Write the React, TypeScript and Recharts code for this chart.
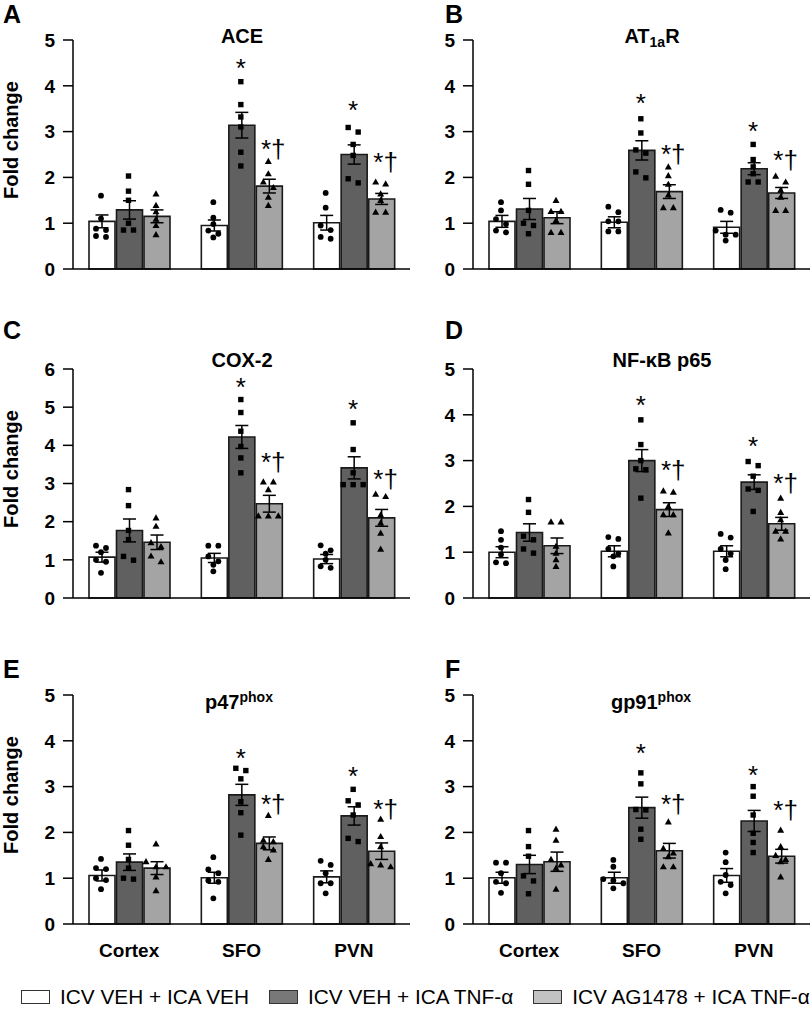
import React from 'react';
import { ComposedChart, Bar, XAxis, YAxis, ErrorBar, Scatter } from 'recharts';

const FONT = '"Liberation Sans", Arial, Helvetica, sans-serif';

const regions = ['Cortex', 'SFO', 'PVN'];
const groups = ['ICV VEH + ICA VEH', 'ICV VEH + ICA TNF-α', 'ICV AG1478 + ICA TNF-α'];
const ticks5 = [0, 1, 2, 3, 4, 5];
const ticks6 = [0, 1, 2, 3, 4, 5, 6];
const markLabels = ['', '*', '*†'];

// each array: [Cortex, SFO, PVN], inner: [VEH, TNF, AG1478]
const aceMean = [[1.04, 1.29, 1.15], [0.95, 3.14, 1.81], [1.01, 2.5, 1.53]];
const aceSem = [[0.14, 0.2, 0.14], [0.12, 0.28, 0.15], [0.16, 0.21, 0.12]];
const acePoints = [
  [[1.6, 1.1, 0.88, 0.85, 0.72, 0.7], [2.03, 1.7, 1.5, 1.0, 0.85, 0.85], [1.64, 1.39, 1.25, 1.09, 0.95, 0.75]],
  [[1.46, 1.12, 0.98, 0.84, 0.77, 0.69], [4.09, 3.59, 3.32, 3.1, 2.55, 2.25], [2.35, 2.08, 1.9, 1.78, 1.57, 1.39]],
  [[1.66, 1.34, 0.95, 0.85, 0.7, 0.66], [3.09, 2.99, 2.72, 2.48, 1.97, 1.88], [1.9, 1.86, 1.64, 1.5, 1.24, 1.24]],
];
const aceMarks = [[null, null, null], [null, 4.49, 2.74], [null, 3.58, 2.45]];

const atrMean = [[1.04, 1.31, 1.12], [1.02, 2.59, 1.69], [0.91, 2.19, 1.66]];
const atrSem = [[0.13, 0.23, 0.13], [0.12, 0.21, 0.15], [0.13, 0.13, 0.12]];
const atrPoints = [
  [[1.46, 1.28, 1.09, 0.98, 0.84, 0.8], [2.15, 1.85, 1.28, 1.0, 0.95, 0.77], [1.5, 1.26, 1.26, 1.06, 0.8, 0.8]],
  [[1.36, 1.24, 1.04, 1.04, 0.82, 0.82], [3.28, 2.97, 2.6, 2.53, 2.12, 1.99], [2.23, 2.04, 1.85, 1.62, 1.34, 1.34]],
  [[1.29, 1.23, 0.84, 0.75, 0.75, 0.62], [2.72, 2.39, 2.23, 2.08, 1.9, 1.9], [2.03, 1.9, 1.72, 1.57, 1.28, 1.28]],
];
const atrMarks = [[null, null, null], [null, 3.74, 2.63], [null, 3.12, 2.48]];

const coxMean = [[1.07, 1.77, 1.46], [1.05, 4.22, 2.47], [1.02, 3.41, 2.1]];
const coxSem = [[0.13, 0.3, 0.19], [0.12, 0.3, 0.22], [0.12, 0.29, 0.22]];
const coxPoints = [
  [[1.37, 1.31, 1.2, 1.0, 0.95, 0.66], [2.84, 2.42, 1.77, 1.53, 1.09, 0.99], [2.1, 1.88, 1.45, 1.35, 1.1, 0.95]],
  [[1.37, 1.37, 1.09, 0.96, 0.87, 0.7], [5.2, 4.86, 4.37, 3.97, 3.67, 3.28], [3.04, 3.04, 2.84, 2.15, 2.15, 2.15]],
  [[1.38, 1.25, 1.16, 1.0, 0.83, 0.79], [4.59, 3.89, 3.28, 2.97, 2.97, 2.97], [2.72, 2.66, 2.18, 1.97, 1.7, 1.28]],
];
const coxMarks = [[null, null, null], [null, 5.65, 3.69], [null, 5.07, 3.25]];

const nfkbMean = [[1.0, 1.43, 1.14], [1.02, 3.0, 1.93], [1.02, 2.53, 1.62]];
const nfkbSem = [[0.12, 0.19, 0.17], [0.12, 0.24, 0.15], [0.12, 0.16, 0.14]];
const nfkbPoints = [
  [[1.46, 1.27, 1.1, 0.95, 0.78, 0.76], [2.15, 1.87, 1.35, 1.27, 1.07, 0.98], [1.66, 1.66, 1.13, 0.98, 0.84, 0.69]],
  [[1.33, 1.29, 1.07, 0.97, 0.91, 0.69], [3.89, 3.35, 3.0, 2.82, 2.8, 2.18], [2.34, 2.31, 2.0, 1.82, 1.82, 1.42]],
  [[1.4, 1.32, 1.07, 0.97, 0.83, 0.63], [2.98, 2.89, 2.66, 2.38, 2.35, 1.89], [2.18, 1.87, 1.71, 1.46, 1.46, 1.29]],
];
const nfkbMarks = [[null, null, null], [null, 4.33, 2.91], [null, 3.42, 2.62]];

const p47Mean = [[1.06, 1.35, 1.22], [1.01, 2.82, 1.76], [1.03, 2.36, 1.59]];
const p47Sem = [[0.12, 0.18, 0.14], [0.12, 0.23, 0.14], [0.13, 0.2, 0.18]];
const p47Points = [
  [[1.42, 1.22, 1.2, 1.0, 0.96, 0.76], [2.04, 1.72, 1.41, 1.22, 1.0, 0.98], [1.75, 1.36, 1.25, 1.25, 1.03, 0.73]],
  [[1.46, 1.19, 1.11, 0.95, 0.92, 0.56], [3.4, 3.35, 3.17, 2.67, 2.43, 1.94], [2.37, 1.83, 1.8, 1.69, 1.62, 1.41]],
  [[1.38, 1.29, 1.11, 0.89, 0.89, 0.67], [2.94, 2.69, 2.6, 2.38, 1.87, 1.8], [2.29, 1.91, 1.69, 1.32, 1.29, 1.25]],
];
const p47Marks = [[null, null, null], [null, 3.73, 2.74], [null, 3.33, 2.63]];

const gp91Mean = [[1.01, 1.3, 1.36], [1.01, 2.54, 1.6], [1.06, 2.25, 1.48]];
const gp91Sem = [[0.12, 0.2, 0.21], [0.12, 0.23, 0.16], [0.15, 0.23, 0.15]];
const gp91Points = [
  [[1.34, 1.34, 1.11, 0.92, 0.89, 0.68], [2.04, 1.69, 1.48, 1.05, 0.94, 0.66], [2.07, 1.83, 1.41, 1.29, 1.22, 0.76]],
  [[1.4, 1.25, 0.98, 0.95, 0.89, 0.78], [3.3, 3.06, 2.5, 2.49, 2.07, 1.85], [2.23, 1.65, 1.55, 1.47, 1.25, 1.25]],
  [[1.56, 1.35, 1.07, 0.92, 0.85, 0.67], [3.0, 2.79, 2.38, 1.98, 1.78, 1.56], [2.05, 1.69, 1.5, 1.41, 1.36, 1.03]],
];
const gp91Marks = [[null, null, null], [null, 3.84, 2.74], [null, 3.36, 2.6]];

type Part = { text: string; sub?: boolean; sup?: boolean };

const panels = [
  { letter: 'A', title: [{ text: 'ACE' }] as Part[], titleX: 242, mean: aceMean, sem: aceSem, points: acePoints, marks: aceMarks, ticks: ticks5, col: 0, row: 0 },
  { letter: 'B', title: [{ text: 'AT' }, { text: '1a', sub: true }, { text: 'R' }] as Part[], titleX: 252, mean: atrMean, sem: atrSem, points: atrPoints, marks: atrMarks, ticks: ticks5, col: 1, row: 0 },
  { letter: 'C', title: [{ text: 'COX-2' }] as Part[], titleX: 242, mean: coxMean, sem: coxSem, points: coxPoints, marks: coxMarks, ticks: ticks6, col: 0, row: 1 },
  { letter: 'D', title: [{ text: 'NF-κB p65' }] as Part[], titleX: 262, mean: nfkbMean, sem: nfkbSem, points: nfkbPoints, marks: nfkbMarks, ticks: ticks5, col: 1, row: 1 },
  { letter: 'E', title: [{ text: 'p47' }, { text: 'phox', sup: true }] as Part[], titleX: 239, mean: p47Mean, sem: p47Sem, points: p47Points, marks: p47Marks, ticks: ticks5, col: 0, row: 2 },
  { letter: 'F', title: [{ text: 'gp91' }, { text: 'phox', sup: true }] as Part[], titleX: 251, mean: gp91Mean, sem: gp91Sem, points: gp91Points, marks: gp91Marks, ticks: ticks5, col: 1, row: 2 },
];

// layout
const COL_LEFT = [0, 400];
const ROW_TOP = [0, 329, 655];
const LETTER_Y = [23, 10, 23];
const TITLE_Y = [43, 38, 54];
const CHART_W = 412;
const MARGIN = { top: 40, right: 2, bottom: 1, left: 33 };
const AXIS_W = 40;
const PLOT_H = 229;
const XAXIS_H = 40;
const CHART_H = MARGIN.top + PLOT_H + XAXIS_H + MARGIN.bottom;
const PLOT_W = CHART_W - MARGIN.left - AXIS_W - MARGIN.right;
const BAR_SIZE = 26;
const BAR_GAP = 1.5;
const SWARM_STEP = 10;

const keys = ['veh', 'tnf', 'ag'];
const barFills = ['#ffffff', '#606060', '#a4a4a4'];
const legendFills = ['#ffffff', '#787878', '#c2c2c2'];

const BAND = PLOT_W / regions.length;
const BAR_OFFSET = Math.floor((BAND - (BAR_SIZE * keys.length + BAR_GAP * (keys.length - 1))) / 2);
const barCenter = (r: number, g: number) => r + (BAR_OFFSET + g * (BAR_SIZE + BAR_GAP) + BAR_SIZE / 2) / BAND;

// lay points of one bar out in rows, like a prism scatter
function swarm(values: number[], max: number) {
  const tol = (max * 6) / PLOT_H;
  const sorted = [...values].sort((a, b) => b - a);
  const rows: number[][] = [];
  sorted.forEach((v) => {
    const last = rows[rows.length - 1];
    if (last && last[0] - v < tol) last.push(v);
    else rows.push([v]);
  });
  const out: { v: number; dx: number }[] = [];
  rows.forEach((row) => row.forEach((v, i) => out.push({ v, dx: (i - (row.length - 1) / 2) * SWARM_STEP })));
  return out;
}

const Circle = (props: any) => <circle cx={props.cx} cy={props.cy} r={2.9} fill="#000" />;
const Square = (props: any) => <rect x={props.cx - 2.7} y={props.cy - 2.7} width={5.4} height={5.4} fill="#000" />;
const Triangle = (props: any) => (
  <polygon
    points={`${props.cx},${props.cy - 3.6} ${props.cx - 3.5},${props.cy + 2.6} ${props.cx + 3.5},${props.cy + 2.6}`}
    fill="#000"
  />
);
const shapes = [Circle, Square, Triangle];

const MarkShape = (props: any) => {
  const { cx, cy, payload } = props;
  const pair = payload.label.length > 1;
  return (
    <text
      x={pair ? cx - 7.4 : cx}
      y={cy + 14}
      textAnchor={pair ? 'start' : 'middle'}
      fontSize={26}
      fontFamily={FONT}
      fill="#000"
    >
      {payload.label}
    </text>
  );
};

function Title({ parts, x, y }: { parts: Part[]; x: number; y: number }) {
  let shift = 0;
  return (
    <text x={x} y={y} textAnchor="middle" fontFamily={FONT} fontWeight="bold" fontSize={20} fill="#000">
      {parts.map((pt, i) => {
        const target = pt.sub ? 4 : pt.sup ? -7 : 0;
        const dy = target - shift;
        shift = target;
        return (
          <tspan key={i} dy={dy} fontSize={pt.sub || pt.sup ? 14 : 20}>
            {pt.text}
          </tspan>
        );
      })}
    </text>
  );
}

function Panel({ p }: { p: (typeof panels)[number] }) {
  const max = p.ticks[p.ticks.length - 1];
  const data = regions.map((region, r) => {
    const row: any = { region };
    keys.forEach((k, g) => {
      row[k] = p.mean[r][g];
      row[k + 'Err'] = p.sem[r][g];
    });
    return row;
  });
  const dots = keys.map((_, g) =>
    regions.flatMap((_, r) => swarm(p.points[r][g], max).map((d) => ({ x: barCenter(r, g) + d.dx / BAND, y: d.v })))
  );
  const marks = regions.flatMap((_, r) =>
    p.marks[r].flatMap((m, g) => (m == null ? [] : [{ x: barCenter(r, g), y: m, label: markLabels[g] }]))
  );
  const bottom = p.row === 2;
  return (
    <div style={{ position: 'absolute', left: COL_LEFT[p.col], top: ROW_TOP[p.row] }}>
      <ComposedChart width={CHART_W} height={CHART_H} data={data} margin={MARGIN} barGap={BAR_GAP}>
        <XAxis
          dataKey="region"
          height={XAXIS_H}
          interval={0}
          axisLine={{ stroke: '#000', strokeWidth: 1.5 }}
          tickLine={false}
          tickMargin={14}
          tick={bottom ? { fill: '#000', fontSize: 19, fontWeight: 'bold', fontFamily: FONT } : false}
        />
        <XAxis xAxisId="pts" type="number" dataKey="x" domain={[0, regions.length]} hide allowDataOverflow />
        <YAxis
          width={AXIS_W}
          domain={[0, max]}
          ticks={p.ticks}
          interval={0}
          tickSize={10}
          tickMargin={8}
          axisLine={{ stroke: '#000', strokeWidth: 1.5 }}
          tickLine={{ stroke: '#000', strokeWidth: 1.5 }}
          tick={{ fill: '#000', fontSize: 19, fontWeight: 'bold', fontFamily: FONT }}
        />
        {keys.map((k, g) => (
          <Bar key={k} dataKey={k} barSize={BAR_SIZE} fill={barFills[g]} stroke="#1a1a1a" strokeWidth={1.6} isAnimationActive={false}>
            <ErrorBar dataKey={k + 'Err'} width={6.5} stroke="#000" strokeWidth={1.5} isAnimationActive={false} />
          </Bar>
        ))}
        {dots.map((d, g) => (
          <Scatter key={g} data={d} xAxisId="pts" dataKey="y" shape={shapes[g]} isAnimationActive={false} />
        ))}
        <Scatter data={marks} xAxisId="pts" dataKey="y" shape={MarkShape} isAnimationActive={false} />
      </ComposedChart>
    </div>
  );
}

export default function App() {
  return (
    <div style={{ position: 'absolute', left: 0, top: 0, width: 812, height: 1012, background: '#fff', overflow: 'hidden' }}>
      {panels.map((p) => (
        <Panel key={p.letter} p={p} />
      ))}
      <svg width={812} height={1012} style={{ position: 'absolute', left: 0, top: 0, pointerEvents: 'none' }}>
        {panels.map((p) => {
          const left = COL_LEFT[p.col];
          const top = ROW_TOP[p.row];
          return (
            <g key={p.letter}>
              <text x={left + (p.col ? 45 : 3)} y={top + LETTER_Y[p.row]} fontFamily={FONT} fontWeight="bold" fontSize={25} fill="#000">
                {p.letter}
              </text>
              <Title parts={p.title} x={left + p.titleX} y={top + TITLE_Y[p.row]} />
              {p.col === 0 && (
                <text
                  transform={`translate(17.6, ${top + MARGIN.top + 100}) rotate(-90)`}
                  textAnchor="middle"
                  fontFamily={FONT}
                  fontWeight="bold"
                  fontSize={20}
                  fill="#000"
                >
                  Fold change
                </text>
              )}
            </g>
          );
        })}
      </svg>
      <div
        style={{
          position: 'absolute',
          left: 21,
          top: 986,
          display: 'flex',
          alignItems: 'center',
          fontFamily: FONT,
          fontSize: 20.8,
          lineHeight: '22px',
          whiteSpace: 'nowrap',
          color: '#000',
        }}
      >
        {groups.map((g, i) => (
          <div key={g} style={{ display: 'flex', alignItems: 'center', marginRight: 20 }}>
            <span
              style={{
                display: 'inline-block',
                width: 29,
                height: 14,
                border: '1px solid #333',
                boxSizing: 'border-box',
                background: legendFills[i],
                marginRight: 10,
              }}
            />
            <span>{g}</span>
          </div>
        ))}
      </div>
    </div>
  );
}
